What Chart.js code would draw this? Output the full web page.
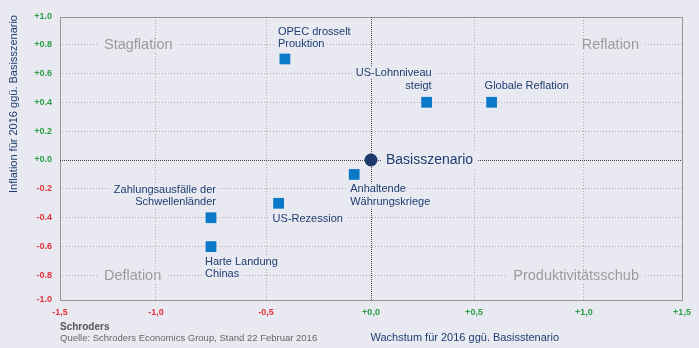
<!DOCTYPE html>
<html>
<head>
<meta charset="utf-8">
<script src="https://cdn.jsdelivr.net/npm/chart.js@4"></script>
<style>
  html, body { margin: 0; padding: 0; background: #e8e9f1; }
  #wrap { width: 699px; height: 348px; }
</style>
</head>
<body>
<div id="wrap"><canvas id="chart" width="699" height="348"></canvas></div>
<script>
// Szenarien: Wachstum (x) und Inflation (y) ggü. Basisszenario
const scenarioNames = [
  ['OPEC drosselt', 'Prouktion'],
  ['US-Lohnniveau', 'steigt'],
  ['Globale Reflation'],
  ['Anhaltende', 'Währungskriege'],
  ['US-Rezession'],
  ['Zahlungsausfälle der', 'Schwellenländer'],
  ['Harte Landung', 'Chinas']
];
const growthValues    = [-0.41, 0.27, 0.58, -0.08, -0.44, -0.75, -0.75];
const inflationValues = [ 0.70, 0.40, 0.40, -0.10, -0.30, -0.40, -0.60];

const baseName = 'Basisszenario';
const baseGrowth = 0.0;
const baseInflation = 0.0;

const quadrantNames = ['Stagflation', 'Reflation', 'Deflation', 'Produktivitätsschub'];

const xTicks = [-1.5, -1.0, -0.5, 0, 0.5, 1.0, 1.5];
const yTicks = [-1.0, -0.8, -0.6, -0.4, -0.2, 0, 0.2, 0.4, 0.6, 0.8, 1.0];

// label placement next to each marker: [dx, dy of first line, align]
const labelPlace = [
  [-7, -27, 'left'],
  [5, -29, 'right'],
  [-7, -16, 'left'],
  [-4, 15, 'left'],
  [-6, 16, 'left'],
  [5, -28, 'right'],
  [-6, 15, 'left']
];

// quadrant names: anchor value and alignment
const quadrantPlace = [
  { x: -1.5, y: 0.8, align: 'left' },
  { x: 1.5, y: 0.8, align: 'right' },
  { x: -1.5, y: -0.8, align: 'left' },
  { x: 1.5, y: -0.8, align: 'right' }
];

// the axes are not evenly spaced: tick value -> share of axis length
const axisStops = {
  x: [[-1.5, 0], [-1.0, 0.1543], [-0.5, 0.3312], [0, 0.5], [0.5, 0.6656], [1.0, 0.8424], [1.5, 1]],
  y: [[-1.0, 0], [-0.8, 0.0867], [0.8, 0.9027], [1.0, 1]]
};

class PiecewiseScale extends Chart.LinearScale {
  static id = 'piecewise';
  static defaults = Chart.LinearScale.defaults;

  toDecimal(v) {
    const st = axisStops[this.id];
    if (v <= st[0][0]) return st[0][1];
    for (let i = 1; i < st.length; i++) {
      const [v0, d0] = st[i - 1], [v1, d1] = st[i];
      if (v <= v1) return d0 + (v - v0) / (v1 - v0) * (d1 - d0);
    }
    return st[st.length - 1][1];
  }
  getPixelForValue(v) {
    return this.getPixelForDecimal(this.toDecimal(v));
  }
  getValueForPixel(p) {
    const d = this.getDecimalForPixel(p);
    const st = axisStops[this.id];
    for (let i = 1; i < st.length; i++) {
      const [v0, d0] = st[i - 1], [v1, d1] = st[i];
      if (d <= d1) return v0 + (d - d0) / (d1 - d0) * (v1 - v0);
    }
    return st[st.length - 1][0];
  }
}
Chart.register(PiecewiseScale);

const BG = '#e8e9f1';
const NAVY = '#1e3d70';
const GREEN = '#2c9f48';
const RED = '#e5323b';
const FONT = '"Liberation Sans", Arial, sans-serif';

function textWithBg(ctx, str, x, y, align, padX, color) {
  const w = ctx.measureText(str).width;
  const left = align === 'left' ? x : align === 'right' ? x - w : x - w / 2;
  ctx.fillStyle = BG;
  ctx.fillRect(left - padX, y - 6, w + padX * 2, 12);
  ctx.fillStyle = color;
  ctx.textAlign = align;
  ctx.fillText(str, x, y);
}

const decorPlugin = {
  id: 'decor',
  beforeDatasetsDraw(chart) {
    const { ctx, chartArea: a, scales: { x, y } } = chart;
    ctx.save();
    // dotted frame and zero lines
    ctx.strokeStyle = '#444';
    ctx.lineWidth = 1;
    ctx.setLineDash([1, 1]);
    ctx.strokeRect(Math.round(a.left) + 0.5, Math.round(a.top) + 0.5,
      Math.round(a.right - a.left), Math.round(a.bottom - a.top));
    const zx = Math.round(x.getPixelForValue(0)) + 0.5;
    const zy = Math.round(y.getPixelForValue(0)) + 0.5;
    ctx.beginPath();
    ctx.moveTo(zx, a.top); ctx.lineTo(zx, a.bottom);
    ctx.moveTo(a.left, zy); ctx.lineTo(a.right, zy);
    ctx.stroke();
    ctx.setLineDash([]);

    // quadrant names
    ctx.font = '14.5px ' + FONT;
    ctx.textBaseline = 'middle';
    quadrantNames.forEach((name, i) => {
      const q = quadrantPlace[i];
      const px = x.getPixelForValue(q.x) + (q.align === 'left' ? 44 : -43);
      const py = y.getPixelForValue(q.y) + 0.5;
      textWithBg(ctx, name, px, py, q.align, 6, '#9b9b9f');
    });

    // scenario names
    ctx.font = '11px ' + FONT;
    scenarioNames.forEach((lines, i) => {
      const [dx, dy, align] = labelPlace[i];
      const px = x.getPixelForValue(growthValues[i]) + dx;
      const py = y.getPixelForValue(inflationValues[i]) + dy;
      lines.forEach((ln, j) => textWithBg(ctx, ln, px, py + j * 12.3, align, 3, NAVY));
    });

    ctx.font = '14px ' + FONT;
    const bx = x.getPixelForValue(baseGrowth) + 15;
    const by = y.getPixelForValue(baseInflation);
    const bw = ctx.measureText(baseName).width;
    ctx.fillStyle = BG;
    ctx.fillRect(bx - 4, by - 8, bw + 8, 16);
    ctx.fillStyle = NAVY;
    ctx.textAlign = 'left';
    ctx.fillText(baseName, bx, by);

    // axis titles and source
    ctx.font = '11px ' + FONT;
    ctx.fillStyle = NAVY;
    ctx.fillText('Wachstum für 2016 ggü. Basisstenario', zx - 1, 338);
    ctx.save();
    ctx.translate(14, 104);
    ctx.rotate(-Math.PI / 2);
    ctx.textAlign = 'center';
    ctx.fillText('Inflation für 2016 ggü. Basisszenario', 0, 0);
    ctx.restore();

    ctx.textAlign = 'left';
    ctx.fillStyle = '#555';
    ctx.font = 'bold 10px ' + FONT;
    ctx.fillText('Schroders', a.left, 327);
    ctx.fillStyle = '#666';
    ctx.font = '9.5px ' + FONT;
    ctx.fillText('Quelle: Schroders Economics Group, Stand 22 Februar 2016', a.left, 338);
    ctx.restore();
  }
};

const isEdgeOrZero = (v, edge) => Math.abs(v) < 1e-9 || Math.abs(Math.abs(v) - edge) < 1e-9;
const signed = (v, sep) => {
  const s = Math.abs(v).toFixed(1).replace('.', sep);
  return (v < -1e-9 ? '-' : '+') + s;
};

new Chart(document.getElementById('chart'), {
  type: 'scatter',
  data: {
    datasets: [
      {
        label: 'Szenarien',
        data: growthValues.map((g, i) => ({ x: g, y: inflationValues[i] })),
        pointStyle: 'rect',
        pointRadius: 7.6,
        pointHoverRadius: 7.6,
        backgroundColor: '#0a79c8',
        borderWidth: 0
      },
      {
        label: baseName,
        data: [{ x: baseGrowth, y: baseInflation }],
        pointStyle: 'circle',
        pointRadius: 6.5,
        pointHoverRadius: 6.5,
        backgroundColor: '#1c3a6a',
        borderWidth: 0
      }
    ]
  },
  options: {
    responsive: false,
    animation: false,
    layout: { padding: { left: 0, right: 17, top: 17, bottom: 0 } },
    plugins: { legend: { display: false }, tooltip: { enabled: false } },
    scales: {
      x: {
        type: 'piecewise',
        min: -1.5, max: 1.5,
        afterBuildTicks: s => { s.ticks = xTicks.map(v => ({ value: v })); },
        afterFit: s => { s.height = 48; },
        grid: {
          drawTicks: false,
          color: ctx => (ctx.tick && isEdgeOrZero(ctx.tick.value, 1.5)) ? 'rgba(0,0,0,0)' : '#adadb4'
        },
        border: { display: false, dash: [1, 2] },
        ticks: {
          padding: 7,
          font: { family: FONT, size: 9, weight: 'bold' },
          color: ctx => ctx.tick.value >= -1e-9 ? GREEN : RED,
          callback: v => signed(v, ',')
        }
      },
      y: {
        type: 'piecewise',
        min: -1.0, max: 1.0,
        afterBuildTicks: s => { s.ticks = yTicks.map(v => ({ value: v })); },
        afterFit: s => { s.width = 60; },
        grid: {
          drawTicks: false,
          color: ctx => (ctx.tick && isEdgeOrZero(ctx.tick.value, 1)) ? 'rgba(0,0,0,0)' : '#adadb4'
        },
        border: { display: false, dash: [1, 2] },
        ticks: {
          padding: 8,
          font: { family: FONT, size: 9, weight: 'bold' },
          color: ctx => ctx.tick.value >= -1e-9 ? GREEN : RED,
          callback: v => signed(v, '.')
        }
      }
    }
  },
  plugins: [decorPlugin]
});
</script>
</body>
</html>
